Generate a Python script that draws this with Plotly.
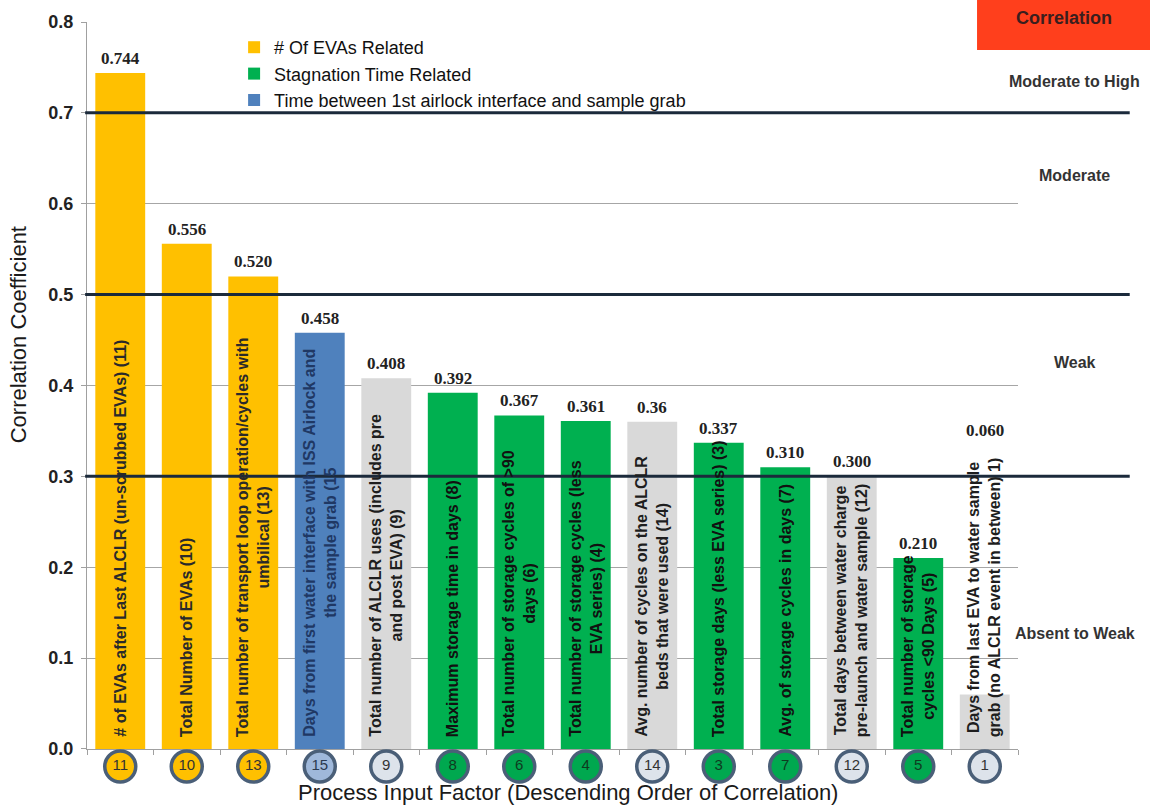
import plotly.graph_objects as go

# ---------------- data ----------------
factor_ids = ["11", "10", "13", "15", "9", "8", "6", "4", "14", "3", "7", "12", "5", "1"]
correlation = [0.744, 0.556, 0.520, 0.458, 0.408, 0.392, 0.367, 0.361, 0.36, 0.337, 0.310, 0.300, 0.210, 0.060]
value_labels = ["0.744", "0.556", "0.520", "0.458", "0.408", "0.392", "0.367", "0.361", "0.36",
                "0.337", "0.310", "0.300", "0.210", "0.060"]
groups = ["evas", "evas", "evas", "airlock", "other", "stag", "stag", "stag", "other",
          "stag", "stag", "other", "stag", "other"]
factor_names = [
    "# of EVAs after Last ALCLR (un-scrubbed EVAs) (11)",
    "Total Number of EVAs (10)",
    "Total number of transport loop operation/cycles with<br>umbilical (13)",
    "Days from first water interface with ISS Airlock and<br>the sample grab (15",
    "Total number of ALCLR uses (includes pre<br>and post EVA) (9)",
    "Maximum storage time in days (8)",
    "Total number of storage cycles of &gt;90<br>days (6)",
    "Total number of storage cycles (less<br>EVA series) (4)",
    "Avg. number of cycles on the ALCLR<br>beds that were used (14)",
    "Total storage days (less EVA series) (3)",
    "Avg. of storage cycles in days (7)",
    "Total days between water charge<br>pre-launch and water sample (12)",
    "Total number of storage<br>cycles &lt;90 Days (5)",
    "Days from last EVA to water sample<br>grab (no ALCLR event in between) 1)",
]
legend_names = {
    "evas": "# Of EVAs Related",
    "stag": "Stagnation Time Related",
    "airlock": "Time between 1st airlock interface and sample grab",
}
threshold_levels = [0.3, 0.5, 0.7]
band_labels = ["Moderate to High", "Moderate", "Weak", "Absent to Weak"]
band_label_y = [0.735, 0.631, 0.425, 0.127]   # data units
y_ticks = [0.0, 0.1, 0.2, 0.3, 0.4, 0.5, 0.6, 0.7, 0.8]

# category keys (non-numeric so that annotations map to categories)
cats = ["F" + f for f in factor_ids]

# ---------------- styles ----------------
bar_color = {"evas": "#FFC000", "stag": "#00B050", "airlock": "#4F81BD", "other": "#D9D9D9"}
circle_color = {"evas": "#FFC000", "stag": "#00A84F", "airlock": "#9FB8DA", "other": "#DDE3EB"}
circle_text_color = {"evas": "#333333", "stag": "#0E3B1F", "airlock": "#2B3A4F", "other": "#333333"}
inner_text_color = {"evas": "#2A2A2A", "stag": "#111111", "airlock": "#1F3864", "other": "#1E1E1E"}
label_override = {"1": 0.335}  # value label of the last bar sits higher in the original

fig = go.Figure()

for g in ["evas", "stag", "airlock", "other"]:
    xs = [c for c, gg in zip(cats, groups) if gg == g]
    ys = [v for v, gg in zip(correlation, groups) if gg == g]
    fig.add_trace(go.Bar(
        x=xs, y=ys, name=legend_names.get(g, "Other"),
        marker=dict(color=bar_color[g], line=dict(width=0)),
        showlegend=g in legend_names, hoverinfo="skip",
    ))

# numbered circles under the axis (own thin subplot)
fig.add_trace(go.Scatter(
    x=cats, y=[0.0] * len(cats), mode="markers+text", xaxis="x2", yaxis="y2",
    text=factor_ids, textposition="middle center",
    textfont=dict(family="Liberation Sans, Arial", size=15,
                  color=[circle_text_color[g] for g in groups]),
    marker=dict(size=31, color=[circle_color[g] for g in groups],
                line=dict(color="#4A5F78", width=3.5)),
    cliponaxis=False, showlegend=False, hoverinfo="skip",
))

annotations = []
for c, f, v, lab, name, g in zip(cats, factor_ids, correlation, value_labels, factor_names, groups):
    annotations.append(dict(
        x=c, y=label_override.get(f, v), xref="x", yref="y", text=lab, showarrow=False,
        xanchor="center", yanchor="bottom", yshift=3,
        font=dict(family="Liberation Serif, Times New Roman", size=17, color="#222222", weight="bold"),
    ))
    annotations.append(dict(
        x=c, y=0, xref="x", yref="y", text=name, showarrow=False, textangle=-90,
        yanchor="bottom", xanchor="center", yshift=10, align="center",
        font=dict(family="Liberation Sans, Arial", size=16, color=inner_text_color[g], weight="bold"),
    ))

for txt, yv in zip(band_labels, band_label_y):
    annotations.append(dict(
        x=1.061, y=yv, xref="paper", yref="y", text=txt, showarrow=False,
        xanchor="center", yanchor="middle",
        font=dict(family="Liberation Sans, Arial", size=16, color="#333333", weight="bold"),
    ))

annotations.append(dict(
    x=1.049, y=1.0052, xref="paper", yref="paper", text="Correlation", showarrow=False,
    xanchor="center", yanchor="middle",
    font=dict(family="Liberation Sans, Arial", size=18, color="#3A1E1E", weight="bold"),
))
annotations.append(dict(
    x=0.517, y=-0.0105, xref="paper", yref="paper", xanchor="center", yanchor="middle",
    text="Process Input Factor (Descending Order of Correlation)", showarrow=False,
    font=dict(family="Liberation Sans, Arial", size=22, color="#1A1A1A"),
))
annotations.append(dict(
    x=-0.074, y=0.589, xref="paper", yref="paper", textangle=-90, xanchor="center", yanchor="middle",
    text="Correlation Coefficient", showarrow=False,
    font=dict(family="Liberation Sans, Arial", size=22, color="#1A1A1A"),
))

shapes = []
for lv in threshold_levels:
    shapes.append(dict(type="line", xref="paper", yref="y", x0=-0.002, x1=1.12, y0=lv, y1=lv,
                       line=dict(color="#1B2A3B", width=3), layer="above"))
shapes.append(dict(type="rect", xref="paper", yref="paper", x0=0.956, x1=1.145, y0=0.9634, y1=1.035,
                   fillcolor="#FF3F1C", line=dict(width=0), layer="above"))

fig.update_layout(
    width=1150, height=806,
    margin=dict(l=87, r=132, t=22, b=20),
    paper_bgcolor="white", plot_bgcolor="white",
    barmode="overlay", bargap=0.25,
    font=dict(family="Liberation Sans, Arial", color="#222222"),
    legend=dict(x=0.158, y=0.9908, xanchor="left", yanchor="top", bgcolor="rgba(0,0,0,0)",
                font=dict(family="Liberation Sans, Arial", size=18, color="#111111"),
                traceorder="normal", tracegroupgap=0),
    xaxis=dict(type="category", categoryorder="array", categoryarray=cats,
               range=[-0.5, len(cats) - 0.5], anchor="y",
               showticklabels=False, showline=True, linecolor="#A0A0A0", linewidth=1,
               ticks="outside", tickson="boundaries", ticklen=5, tickcolor="#A0A0A0",
               showgrid=False, zeroline=False, fixedrange=True),
    yaxis=dict(range=[0, 0.8], domain=[0.046, 1], tickvals=y_ticks, tickformat=".1f",
               showline=True, linecolor="#A0A0A0", linewidth=1, ticks="outside", ticklen=5,
               tickcolor="#A0A0A0", gridcolor="#A6A6A6", gridwidth=1, zeroline=False,
               ticklabelstandoff=4,
               tickfont=dict(family="Liberation Sans, Arial", size=18, color="#222222", weight="bold")),
    xaxis2=dict(type="category", categoryorder="array", categoryarray=cats,
                range=[-0.5, len(cats) - 0.5], anchor="y2", visible=False),
    yaxis2=dict(range=[-1, 1], domain=[0, 0.046], anchor="x2", visible=False),
    annotations=annotations, shapes=shapes,
)

fig.write_html("out.html")
